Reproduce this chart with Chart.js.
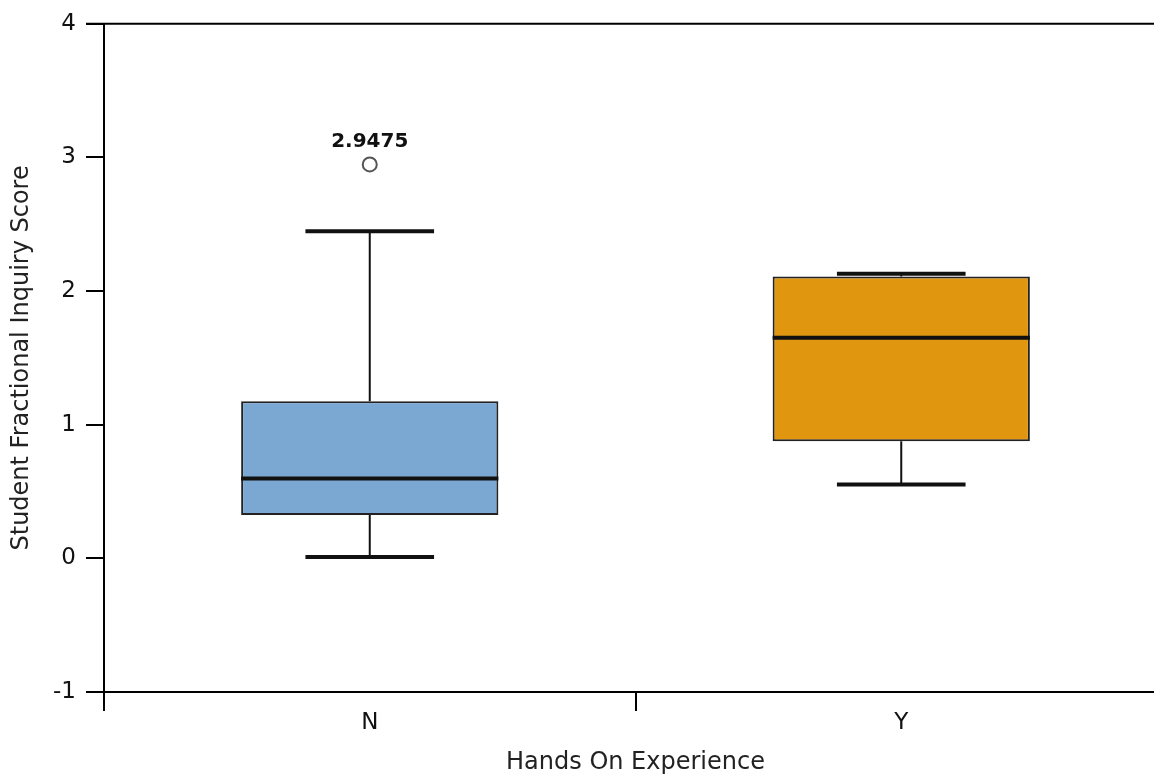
<!DOCTYPE html>
<html>
<head>
<meta charset="utf-8">
<script src="https://cdn.jsdelivr.net/npm/chart.js@4/dist/chart.umd.min.js"></script>
<style>
  html, body { margin: 0; padding: 0; background: #fff; }
  #wrap { width: 1154px; height: 776px; overflow: hidden; position: relative; }
  #chart { display: block; }
</style>
</head>
<body>
<div id="wrap"><canvas id="chart" width="1190" height="776"></canvas></div>
<script>
// Five-number summaries per group
const categories = ['N', 'Y'];
const q1 = [0.324, 0.876];
const median = [0.597, 1.651];
const q3 = [1.175, 2.109];
const whiskerLow = [0.011, 0.552];
const whiskerHigh = [2.447, 2.129];
const outliers = [[2.9475], []];
const boxColors = ['#7ba7d3', '#e0960e'];

const FONT = "'DejaVu Sans', sans-serif";

// Whiskers, caps, medians and outlier markers drawn on top of the floating bars
const boxplotExtras = {
  id: 'boxplotExtras',
  afterDatasetsDraw(chart) {
    const ctx = chart.ctx;
    const xs = chart.scales.x, ys = chart.scales.y;
    const meta = chart.getDatasetMeta(0);
    ctx.save();
    categories.forEach((c, i) => {
      const bar = meta.data[i];
      const cx = xs.getPixelForValue(i);
      const half = bar.width / 2;
      const capHalf = half * 0.5;
      const yLo = ys.getPixelForValue(whiskerLow[i]);
      const yHi = ys.getPixelForValue(whiskerHigh[i]);
      const yQ1 = ys.getPixelForValue(q1[i]);
      const yQ3 = ys.getPixelForValue(q3[i]);
      const yMed = ys.getPixelForValue(median[i]);

      ctx.strokeStyle = '#111';
      ctx.lineCap = 'butt';
      // whisker stems
      ctx.lineWidth = 2;
      ctx.beginPath();
      ctx.moveTo(cx, yQ3); ctx.lineTo(cx, yHi);
      ctx.moveTo(cx, yQ1); ctx.lineTo(cx, yLo);
      ctx.stroke();
      // caps
      ctx.lineWidth = 4;
      ctx.beginPath();
      ctx.moveTo(cx - capHalf, yHi); ctx.lineTo(cx + capHalf, yHi);
      ctx.moveTo(cx - capHalf, yLo); ctx.lineTo(cx + capHalf, yLo);
      ctx.stroke();
      // median
      ctx.beginPath();
      ctx.moveTo(cx - half, yMed); ctx.lineTo(cx + half, yMed);
      ctx.stroke();

      // outliers with value labels
      outliers[i].forEach(v => {
        const oy = ys.getPixelForValue(v);
        ctx.lineWidth = 2;
        ctx.strokeStyle = '#555';
        ctx.fillStyle = '#fff';
        ctx.beginPath();
        ctx.arc(cx, oy, 7, 0, Math.PI * 2);
        ctx.fill();
        ctx.stroke();
        ctx.fillStyle = '#111';
        ctx.font = "bold 20px " + FONT;
        ctx.textAlign = 'center';
        ctx.textBaseline = 'alphabetic';
        ctx.fillText(String(v), cx, oy - 17);
      });
    });
    ctx.restore();
  },
  afterDraw(chart) {
    // frame line along the top of the plot area
    const {ctx, chartArea} = chart;
    ctx.save();
    ctx.strokeStyle = '#000';
    ctx.lineWidth = 2;
    ctx.beginPath();
    ctx.moveTo(chartArea.left - 18, chartArea.top);
    ctx.lineTo(chartArea.right, chartArea.top);
    ctx.stroke();
    ctx.restore();
  }
};

new Chart(document.getElementById('chart'), {
  type: 'bar',
  data: {
    labels: categories,
    datasets: [{
      data: categories.map((c, i) => [q1[i], q3[i]]),
      backgroundColor: boxColors,
      borderColor: '#222',
      borderWidth: 2,
      borderSkipped: false,
      barPercentage: 0.484,
      categoryPercentage: 1.0
    }]
  },
  options: {
    responsive: false,
    animation: false,
    events: [],
    layout: { padding: { top: 23, right: 23, left: 0, bottom: 0 } },
    plugins: { legend: { display: false }, tooltip: { enabled: false } },
    scales: {
      x: {
        type: 'category',
        offset: true,
        grid: {
          offset: true,
          drawOnChartArea: false,
          drawTicks: true,
          tickLength: 19,
          color: '#000',
          lineWidth: 2
        },
        border: { display: true, color: '#000', width: 2 },
        ticks: { color: '#111', font: { family: FONT, size: 23, lineHeight: 1 }, padding: 1 },
        title: {
          display: true,
          text: 'Hands On Experience',
          color: '#222',
          font: { family: FONT, size: 24, lineHeight: 1 },
          padding: { top: 0, bottom: 1 }
        },
        afterFit(scale) { scale.height = 84; }
      },
      y: {
        min: -1,
        max: 4,
        ticks: { stepSize: 1, color: '#111', font: { family: FONT, size: 23 }, padding: 10 },
        grid: {
          drawOnChartArea: false,
          drawTicks: true,
          tickLength: 18,
          color: '#000',
          lineWidth: 2
        },
        border: { display: true, color: '#000', width: 2 },
        title: {
          display: true,
          text: 'Student Fractional Inquiry Score',
          color: '#222',
          font: { family: FONT, size: 24, lineHeight: 1 },
          padding: { top: 10, bottom: 0 }
        },
        afterFit(scale) { scale.width = 104; }
      }
    }
  },
  plugins: [boxplotExtras]
});
</script>
</body>
</html>
